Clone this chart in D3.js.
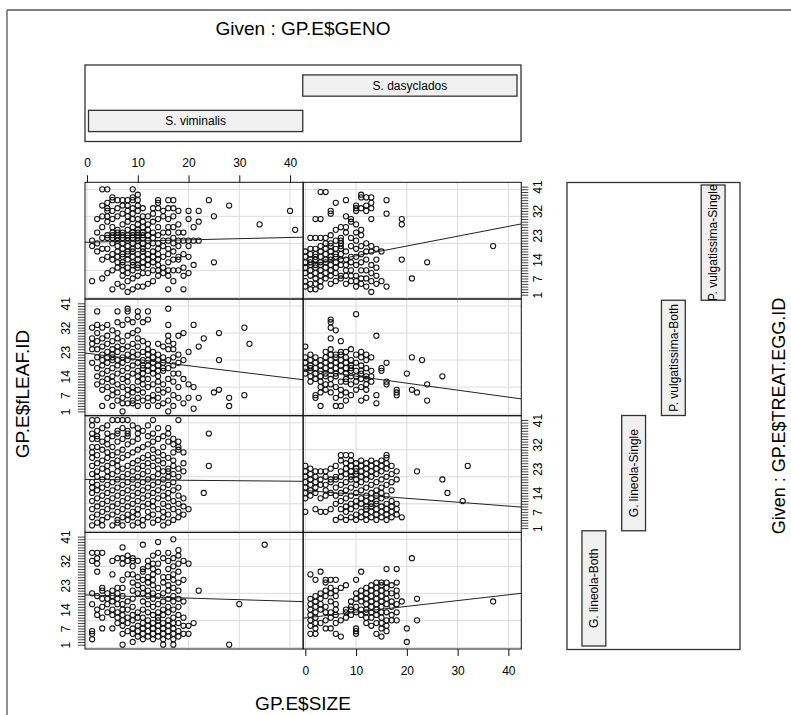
<!DOCTYPE html>
<html lang="en">
<head>
<meta charset="UTF-8">
<title>coplot GP.E</title>
<script src="https://cdn.jsdelivr.net/npm/d3@7"></script>
<style>
    body { margin: 0; background: #fff; }
    text { font-family: "Liberation Sans", Arial, sans-serif; fill: #000; }
</style>
</head>
<body>
<script>
    // given levels
    var genoLevels = ["S. viminalis", "S. dasyclados"];
    var treatLevels = ["G. lineola-Both", "G. lineola-Single", "P. vulgatissima-Both", "P. vulgatissima-Single"];
    var xTicks = [0, 10, 20, 30, 40];
    var yGrid = [0, 10, 20, 30, 40];
    var yTickLabels = [1, 7, 14, 23, 32, 41];

    // points per panel: [SIZE, [LEAF.ID, ...]]
    var vimPvS = [[1,[6,19,21]],[2,[17,20,24,29]],[3,[7,14,18,22,26,30,34,40]],[4,[9,15,18,22,23,28,30,32,33,35,40]],
        [5,[3,10,14,16,20,22,23,24,26,29,32,36,37]],[6,[5,11,13,15,17,19,21,22,23,24,25,30,33,36]],
        [7,[4,8,10,12,13,15,16,18,20,22,23,24,27,31,34,36]],[8,[2,6,9,11,14,16,17,19,21,22,23,25,28,30,32,34,36]],
        [9,[3,7,10,12,13,15,17,18,20,22,23,24,26,29,31,33,36,37,40]],[10,[4,8,11,12,14,16,19,21,22,23,24,25,27,29,32,34,36,38]],
        [11,[4,9,11,13,15,17,18,20,22,23,24,26,28,30,33]],[12,[5,9,12,14,16,19,21,23,25,27,30]],
        [13,[6,10,13,15,17,20,22,24,28,31,33]],[14,[8,10,12,14,16,18,20,23,26,29,33,35,36]],
        [15,[9,11,15,19,21,24,30,32]],[16,[3,8,10,13,16,18,21,24,26,29,33,36]],[17,[6,10,14,17,20,22,26,30,33,36]],
        [18,[10,14,15,19,21,24,27,32]],[19,[3,8,11,16,21,24]],[20,[9,15,19,21,29,32]],[21,[12,21,26]],
        [22,[21,28,32]],[24,[36]],[25,[13,30]],[28,[34]],[34,[27]],[40,[32]],[41,[25]]];
    var dasPvS = [[0,[4,6,9,11,13,15,17]],[1,[3,5,8,10,12,13,14,16,18,22]],[2,[3,5,7,9,11,12,14,15,16,18,22,29]],
        [3,[4,6,8,10,12,13,15,17,19,22,29,39]],[4,[7,9,11,13,14,16,18,20,22,39]],[5,[5,8,10,12,14,15,17,19,20,23,31,32]],
        [6,[6,9,11,13,15,16,18,21,25,35]],[7,[7,8,12,14,16,18,19,20,21,22,26]],[8,[5,8,10,12,14,17,24,26,30,36]],
        [9,[6,8,10,13,15,19,22,28,29]],[10,[4,6,8,12,15,18,21,24,27,32,33,34]],[11,[5,7,10,13,16,19,23,25,33,37,38]],
        [12,[4,7,10,14,17,20,32,34,37]],[13,[2,6,9,12,17,19,29,33,35,37]],[14,[5,8,11,14,18]],[15,[6,17]],
        [16,[4,31,36]],[19,[14,27,29]],[21,[7]],[24,[13]],[37,[19]]];
    var vimPvB = [[1,[19,24,26,28,32]],[2,[11,14,17,21,24,27,30,33,38]],[3,[3,9,12,15,18,20,22,25,28,32]],
        [4,[6,10,13,16,19,21,23,26,29,33]],[5,[3,7,9,12,14,17,20,21,22,24,27,31]],[6,[5,8,11,15,18,20,23,25,28,30,34,38]],
        [7,[1,4,6,10,13,16,19,21,24,27,33]],[8,[4,7,9,12,14,17,20,22,25,29,35,38,39]],[9,[4,5,8,10,15,18,21,23,26,30,34]],
        [10,[3,6,9,12,14,16,19,22,25,28,31,36,38]],[11,[5,8,11,13,15,17,18,20,23,27,34]],[12,[3,6,10,13,16,18,20,22,24,26,35,38]],
        [13,[5,7,11,15,17,19,21,23]],[14,[3,6,9,12,14,16,18,20,22,26]],[15,[4,8,11,16,17,19,21,25]],
        [16,[1,5,9,13,17,20,24,27,29,33,39]],[17,[3,7,12,15,18,21,24,26]],[18,[6,10,15,19,22,29]],[19,[4,13,20,30]],
        [20,[6,11,23]],[21,[2,10,33]],[22,[6,25]],[23,[28]],[25,[8]],[26,[9,20,30]],[28,[3,6]],[31,[7,32]],[32,[26]]];
    var dasPvB = [[0,[15,17,19,21,25]],[1,[12,14,16,17,18,20,22]],[2,[6,7,13,15,17,19,21]],[3,[3,8,10,12,14,16,18,20]],
        [4,[9,11,14,15,17,19,21,23]],[5,[8,11,13,16,18,20,22,24,28,32,34,35]],[6,[3,6,10,14,15,17,19,21,22,31]],
        [7,[3,7,9,12,16,18,20,22,23,27]],[8,[5,8,12,13,15,17,19,21,23]],[9,[7,11,14,16,17,18,20,24]],
        [10,[9,12,14,16,19,22,37]],[11,[5,10,13,15,16,18,21,23]],[12,[6,9,11,13,14,17,20,22]],[13,[12,14,16,21]],
        [14,[4,7,29]],[15,[16,17]],[16,[11,12,19]],[18,[7,8,9]],[20,[15]],[21,[9,21]],[22,[8]],[23,[20]],[24,[5,11]],[27,[14]]];
    var vimGlS = [[1,[2,5,8,11,14,16,18,21,24,27,29,31,34,36,39,41]],[2,[3,6,9,12,15,17,20,22,25,28,31,34,35,37,41]],
        [3,[2,4,7,10,13,16,19,23,26,30,33,38]],[4,[5,8,11,14,17,20,22,24,27,29,32,34,36,39]],
        [5,[2,6,9,12,15,18,21,25,28,31,35,41]],[6,[3,4,7,10,13,16,19,22,24,26,29,33,36,37,41]],
        [7,[2,5,8,11,14,17,20,23,27,30,34,38,41]],[8,[4,6,9,12,15,18,21,24,28,32,35,36,37,41]],
        [9,[2,5,7,10,13,16,19,22,25,29,33,39]],[10,[3,6,8,11,14,17,20,23,26,30,34,36,38]],
        [11,[2,4,9,12,15,18,21,24,27,31,37]],[12,[5,7,10,13,16,19,22,25,28,32,35,39]],
        [13,[3,6,9,11,14,17,20,24,27,30,33,36,41]],[14,[4,8,12,15,18,21,23,26,29,34,38]],
        [15,[2,5,7,10,13,16,19,22,25,28,31,35]],[16,[3,6,9,12,14,17,20,22,23,27,33,36,38]],
        [17,[4,8,11,15,18,21,24,26,29,32,34]],[18,[5,7,10,13,16,20,23,30,31,33,41]],[19,[6,9,12,22,25,29]],
        [20,[8]],[23,[14]],[24,[24,36]]];
    var dasGlS = [[0,[7,12,14,16,18,20,22,24]],[1,[13,15,17,19,21,23]],[2,[8,14,16,18,20,22]],[3,[7,12,17,19,22]],
        [4,[7,13,15,17,20,22]],[5,[8,14,18,19,23]],[6,[4,10,13,16,19,20,24]],[7,[5,8,11,14,17,20,22,26,28]],
        [8,[4,7,9,12,15,18,21,23,25,28]],[9,[5,8,10,13,16,19,20,22,24,26,28]],[10,[4,6,9,11,14,17,19,21,22,23,25]],
        [11,[5,7,10,12,15,18,20,22,24,26]],[12,[4,6,8,9,11,13,16,19,21,23,25]],[13,[5,7,9,10,12,14,17,20,22,24,26]],
        [14,[4,6,8,10,11,13,15,18,21,23,25]],[15,[5,7,9,12,14,16,19,22,24,26]],[16,[4,6,8,10,13,17,20,23,25,27,28]],
        [17,[5,7,9,11,15,18,21,24]],[18,[6,8,10,19,22]],[19,[5]],[22,[22]],[27,[19]],[28,[14]],[31,[11]],[32,[24]]];
    var vimGlB = [[1,[3,5,6,16,20,32,35]],[2,[12,14,19,28,31,33,35]],[3,[7,11,15,18,21,22,35]],[4,[13,16,18,20]],
        [5,[7,12,14,17,19,21,27,32]],[6,[9,11,13,16,18,20,22,33]],[7,[1,5,8,10,12,14,16,19,22,25,31,33,37]],
        [8,[6,9,11,14,17,27,32,34]],[9,[2,5,7,10,12,15,18,21,24,27,30,32,33]],[10,[4,6,8,11,13,20,23,26,32]],
        [11,[3,5,7,9,11,14,17,20,22,25,28,29,38]],[12,[4,6,8,10,13,16,19,21,24,26,30,32]],
        [13,[3,5,7,9,12,15,18,20,23,25,27,29,31,34]],[14,[4,6,8,10,11,13,16,19,22,28,31,35,39]],
        [15,[1,3,5,7,9,12,14,17,20,24,26,33]],[16,[4,6,8,10,13,15,18,21,23,26,29,32,35]],
        [17,[1,3,5,7,9,11,14,17,19,22,25,27,30,33,40]],[18,[4,6,9,12,15,18,21,24,28,31,34,36]],
        [19,[5,8,11,17,25,32]],[20,[5,8,31]],[21,[9]],[22,[21]],[28,[1]],[30,[16]],[35,[38]]];
    var dasGlB = [[1,[5,8,10,12,14,16,18,27]],[2,[5,7,9,11,13,15,17,19,25]],[3,[9,14,16,18,20,28]],
        [4,[7,10,13,15,19,21,24,25]],[5,[7,11,13,17,20,22,25]],[6,[5,9,12,14,16,19,21,25]],[7,[4,10,22]],
        [8,[11,13,14,23]],[9,[12,14,15,17]],[10,[5,6,7,13,15,18,20,25]],[11,[12,14,17,19,21,28]],
        [12,[9,11,13,14,16,18,20,22]],[13,[8,11,13,15,17,19,21,23]],[14,[5,9,12,14,16,18,20,22,24]],
        [15,[4,7,9,11,13,15,17,19,21,23,24]],[16,[6,8,10,13,16,18,20,22,24,29]],[17,[10,12,15,17,20,23]],
        [18,[10,13,16,19,21,24,29]],[19,[17]],[20,[2,7]],[21,[33]],[22,[10,18]],[37,[17]]];

    // fitted lines [intercept, slope] by treat level
    var fitVim = [[19.4, -0.058], [19.0, -0.016], [22.5, -0.23], [20.42, 0.044]];
    var fitDas = [[10.9, 0.214], [14.9, -0.144], [16.6, -0.258], [11.75, 0.363]];

    var width = 791, height = 715;
    var colLeft = [85, 303.3], colW = 218;
    var rowTop = [182.3, 299, 415.7, 532.3], rowH = 116.7;
    var xDom = [-0.4, 42.55], yDom = [-0.6, 42.6];

    var svg = d3.select("body").append("svg")
            .attr("width", width)
            .attr("height", height);

    // frame
    svg.append("line").attr("x1", 7).attr("y1", 10).attr("x2", width).attr("y2", 10)
            .attr("stroke", "#555").attr("stroke-width", 1.3);
    svg.append("line").attr("x1", 7).attr("y1", 10).attr("x2", 7).attr("y2", height)
            .attr("stroke", "#555").attr("stroke-width", 1.3);

    function expand(cols) {
        var out = [];
        cols.forEach(function (c) {
            c[1].forEach(function (v) { out.push([c[0], v]); });
        });
        return out;
    }

    var panelPts = [[vimGlB, dasGlB], [vimGlS, dasGlS], [vimPvB, dasPvB], [vimPvS, dasPvS]];
    var fits = [fitVim, fitDas];

    function xScale(g) {
        return d3.scaleLinear().domain(xDom).range([colLeft[g], colLeft[g] + colW]);
    }
    function yScale(r) {
        return d3.scaleLinear().domain(yDom).range([rowTop[r] + rowH, rowTop[r]]);
    }

    for (var t = 0; t < 4; t++) {
        for (var g = 0; g < 2; g++) {
            var r = 3 - t;
            var x = xScale(g), y = yScale(r);
            var id = "clip" + t + g;
            svg.append("clipPath").attr("id", id).append("rect")
                    .attr("x", colLeft[g]).attr("y", rowTop[r]).attr("width", colW).attr("height", rowH);
            var p = svg.append("g").attr("clip-path", "url(#" + id + ")");

            p.selectAll(".vg").data(xTicks).enter().append("line")
                    .attr("x1", x).attr("x2", x)
                    .attr("y1", rowTop[r]).attr("y2", rowTop[r] + rowH)
                    .attr("stroke", "#dcdcdc").attr("stroke-width", 1);
            p.selectAll(".hg").data(yGrid).enter().append("line")
                    .attr("y1", y).attr("y2", y)
                    .attr("x1", colLeft[g]).attr("x2", colLeft[g] + colW)
                    .attr("stroke", "#dcdcdc").attr("stroke-width", 1);

            p.selectAll("circle").data(expand(panelPts[t][g])).enter().append("circle")
                    .attr("cx", function (d) { return x(d[0]); })
                    .attr("cy", function (d) { return y(d[1]); })
                    .attr("r", 2.6)
                    .attr("fill", "none")
                    .attr("stroke", "#111")
                    .attr("stroke-width", 1.05);

            var f = fits[g][t];
            p.append("line")
                    .attr("x1", x(xDom[0])).attr("y1", y(f[0] + f[1] * xDom[0]))
                    .attr("x2", x(xDom[1])).attr("y2", y(f[0] + f[1] * xDom[1]))
                    .attr("stroke", "#222").attr("stroke-width", 1);

            svg.append("rect")
                    .attr("x", colLeft[g]).attr("y", rowTop[r])
                    .attr("width", colW).attr("height", rowH)
                    .attr("fill", "none").attr("stroke", "#111").attr("stroke-width", 1);
        }
    }

    // x axes: top of left column, bottom of right column
    var ax1 = svg.append("g").attr("transform", "translate(0," + rowTop[0] + ")")
            .call(d3.axisTop(xScale(0)).tickValues(xTicks).tickSize(7).tickPadding(8));
    var ax2 = svg.append("g").attr("transform", "translate(0," + (rowTop[3] + rowH) + ")")
            .call(d3.axisBottom(xScale(1)).tickValues(xTicks).tickSize(7).tickPadding(10.5));
    [ax1, ax2].forEach(function (a) {
        a.select(".domain").remove();
        a.selectAll("line").attr("stroke", "#111");
        a.selectAll("text").style("font-size", "12px").attr("fill", "#000").style("font-family", "Liberation Sans, Arial, sans-serif");
    });

    // y axes: right side for rows 0 and 2, left side for rows 1 and 3
    var yTicks = d3.range(1, 42);
    for (var r = 0; r < 4; r++) {
        var right = (r % 2 === 0);
        var axis = right ? d3.axisRight(yScale(r)) : d3.axisLeft(yScale(r));
        axis.tickValues(yTicks).tickSize(7)
                .tickFormat(function (d) { return yTickLabels.indexOf(d) >= 0 ? d : ""; });
        var ga = svg.append("g")
                .attr("transform", "translate(" + (right ? colLeft[1] + colW : colLeft[0]) + ",0)")
                .call(axis);
        ga.select(".domain").remove();
        ga.selectAll("line").attr("stroke", "#111").attr("stroke-width", 0.8);
        ga.selectAll("text")
                .attr("x", 0).attr("y", 0).attr("dy", "0.35em")
                .attr("text-anchor", "middle")
                .attr("transform", "translate(" + (right ? 16 : -19.5) + ",0) rotate(-90)")
                .style("font-size", "12px").attr("fill", "#000")
                .style("font-family", "Liberation Sans, Arial, sans-serif");
    }

    // given panel: GENO (top)
    svg.append("rect").attr("x", 85).attr("y", 65).attr("width", 436).attr("height", 76.5)
            .attr("fill", "none").attr("stroke", "#333").attr("stroke-width", 1.3);
    var gx = d3.scaleLinear().domain([0.5, 2.5]).range([88.5, 517]);
    var gy = d3.scaleLinear().domain([0.42, 2.58]).range([141.5, 65]);
    genoLevels.forEach(function (lab, i) {
        var lv = i + 1;
        svg.append("rect")
                .attr("x", gx(lv - 0.5)).attr("y", gy(lv + 0.3))
                .attr("width", gx(lv + 0.5) - gx(lv - 0.5)).attr("height", gy(lv - 0.3) - gy(lv + 0.3))
                .attr("fill", "#f0f0f0").attr("stroke", "#333").attr("stroke-width", 1.3);
        svg.append("text").attr("x", gx(lv)).attr("y", gy(lv)).attr("dy", "0.35em")
                .attr("text-anchor", "middle").style("font-size", "12px").text(lab);
    });

    // given panel: TREAT.EGG.ID (right)
    svg.append("rect").attr("x", 567).attr("y", 182.5).attr("width", 173).attr("height", 467)
            .attr("fill", "none").attr("stroke", "#333").attr("stroke-width", 1.3);
    var tx = d3.scaleLinear().domain([0.5, 4.5]).range([574, 733]);
    var ty = d3.scaleLinear().domain([0.5, 4.5]).range([646, 185]);
    treatLevels.forEach(function (lab, i) {
        var lv = i + 1;
        svg.append("rect")
                .attr("x", tx(lv - 0.3)).attr("y", ty(lv + 0.5))
                .attr("width", tx(lv + 0.3) - tx(lv - 0.3)).attr("height", ty(lv - 0.5) - ty(lv + 0.5))
                .attr("fill", "#f0f0f0").attr("stroke", "#333").attr("stroke-width", 1.3);
        svg.append("text")
                .attr("transform", "translate(" + tx(lv) + "," + ty(lv) + ") rotate(-90)")
                .attr("dy", "0.35em").attr("text-anchor", "middle")
                .style("font-size", "12px").text(lab);
    });

    // titles
    svg.append("text").attr("x", 303).attr("y", 35).attr("text-anchor", "middle")
            .style("font-size", "19px").attr("fill", "#222").text("Given : GP.E$GENO");
    svg.append("text").attr("x", 303).attr("y", 710).attr("text-anchor", "middle")
            .style("font-size", "19px").attr("fill", "#222").text("GP.E$SIZE");
    svg.append("text").attr("transform", "translate(29,394) rotate(-90)").attr("text-anchor", "middle")
            .style("font-size", "19px").attr("fill", "#222").text("GP.E$fLEAF.ID");
    svg.append("text").attr("transform", "translate(785,416) rotate(-90)").attr("text-anchor", "middle")
            .style("font-size", "18px").attr("fill", "#222").text("Given : GP.E$TREAT.EGG.ID");
</script>
</body>
</html>
